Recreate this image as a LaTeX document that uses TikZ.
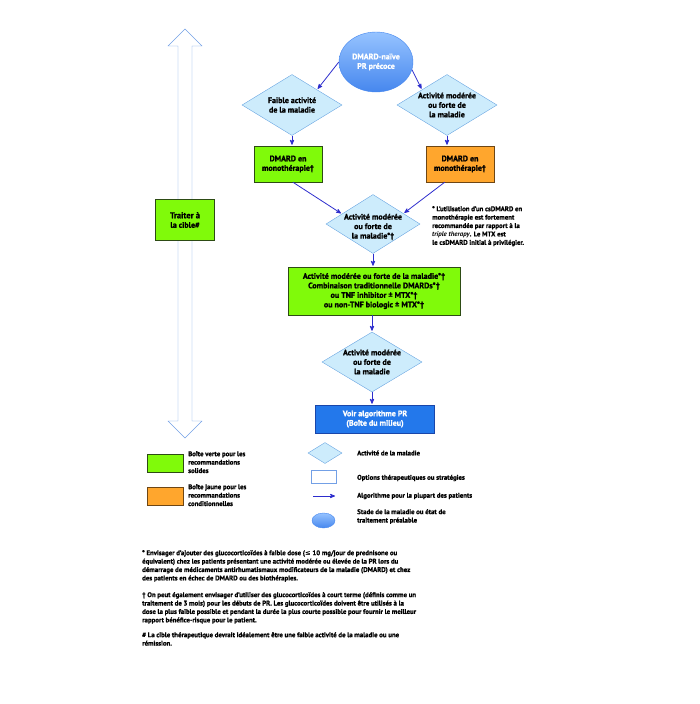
\documentclass[tikz,border=0pt]{standalone}
\usepackage{fontspec}
\setmainfont{PT Sans}[BoldFeatures={FakeBold=1.2}]
\newfontfamily\symfont{DejaVu Sans}
\usetikzlibrary{arrows,positioning,shapes.geometric}

\definecolor{flowblue}{RGB}{45,45,205}
\definecolor{diamondfill}{RGB}{205,236,252}
\definecolor{diamondline}{RGB}{105,165,225}
\definecolor{solidgreen}{RGB}{128,250,10}
\definecolor{greenline}{RGB}{45,75,20}
\definecolor{condorange}{RGB}{255,166,45}
\definecolor{orangeline}{RGB}{110,70,20}
\definecolor{milieublue}{RGB}{35,120,235}
\definecolor{milieuline}{RGB}{25,70,170}
\definecolor{stageblue}{RGB}{70,135,238}
\definecolor{stagelight}{RGB}{150,195,255}
\definecolor{targetline}{RGB}{115,160,230}

\begin{document}
\begin{tikzpicture}[x=1pt,y=-1pt,>=stealth',shorten >=1pt,
    font=\bfseries\fontsize{8}{9.5}\selectfont,
    decision/.style={diamond,draw=diamondline,fill=diamondfill,thin,inner sep=0pt,
                     minimum width=100pt,minimum height=61pt},
    dtext/.style={align=center,inner sep=0pt},
    solid box/.style={rectangle,draw=greenline,fill=solidgreen,thin,align=center,inner sep=0pt},
    cond box/.style={rectangle,draw=orangeline,fill=condorange,thin,align=center,inner sep=0pt},
    stage node/.style={ellipse,draw=stageblue,top color=stagelight,bottom color=stageblue,
                       thin,text=white,align=center,inner sep=0pt},
    milieu box/.style={rectangle,draw=milieuline,fill=milieublue,thin,text=white,align=center,inner sep=0pt},
    flow/.style={->,draw=flowblue,thick},
    note text/.style={align=left,inner sep=0pt,anchor=north west,font=\bfseries\fontsize{6.8}{8.4}\selectfont}]
  \useasboundingbox (0,0) rectangle (700,704);

  % treat to target
  \draw[targetline,fill=white,thin] (185,29) -- (202,46) -- (192,46) -- (192,421) -- (202,421)
    -- (185,438) -- (168,421) -- (178,421) -- (178,46) -- (168,46) -- cycle;
  \node[solid box,minimum width=59pt,minimum height=41pt] (target) at (185,220)
    {\fontsize{8.5}{10.5}\selectfont Traiter à\\la cible\#};

  % algorithm
  \node[stage node,minimum width=74pt,minimum height=60pt] (start) at (376,62)
    {DMARD-naïve\\PR précoce};
  \node[decision,label={[dtext]center:{Faible activité\\de la maladie}}] (ld) at (292,105) {};
  \node[decision,label={[dtext]center:{Activité modérée\\ou forte de\\la maladie}}] (rd) at (447,105) {};
  \node[solid box,minimum width=68pt,minimum height=36pt] (lbox) at (288,164) {DMARD en\\monothérapie†};
  \node[cond box,minimum width=68pt,minimum height=36pt] (rbox) at (460,164) {DMARD en\\monothérapie†};
  \node[decision,minimum width=94pt,minimum height=59pt,
        label={[dtext,yshift=-3pt]center:{Activité modérée\\ou forte de\\la maladie*†}}] (md) at (373,224) {};
  \node[note text] (note) at (432,206) {* L'utilisation d'un csDMARD en\\monothérapie est fortement\\
    recommandée par rapport à la\\\textit{triple therapy}. Le MTX est\\le csDMARD initial à privilégier.};
  \node[solid box,minimum width=172pt,minimum height=48pt] (combo) at (374,291)
    {\fontsize{8}{8.6}\selectfont Activité modérée ou forte de la maladie*†\\Combinaison traditionnelle DMARDs*†\\
     ou TNF inhibitor ± MTX*†\\ou non-TNF biologic ± MTX*†};
  \node[decision,minimum height=60pt,
        label={[dtext]center:{Activité modérée\\ou forte de\\la maladie}}] (ed) at (372,362) {};
  \node[milieu box,minimum width=119pt,minimum height=28pt] (milieu) at (375,419)
    {Voir algorithme PR\\(Boîte du milieu)};

  \draw[flow] (start.west) -- (ld.north east);
  \draw[flow] (start.-12) -- (rd.north west);
  \draw[flow] (ld.south) -- (ld.south |- lbox.north);
  \draw[flow] (rd.south) -- (rd.south |- rbox.north);
  \draw[flow] (lbox.285) -- (md.162);
  \draw[flow] (rbox.230) -- (md.19);
  \draw[flow] (md.south) -- (md.south |- combo.north);
  \draw[flow] (ed.north |- combo.south) -- (ed.north);
  \draw[flow] (ed.south) -- (ed.south |- milieu.north);

  % legend
  \node[solid box,minimum width=36pt,minimum height=18pt] (lgreen) at (165,463) {};
  \node[note text] (tgreen) at (188,451) {Boîte verte pour les\\recommandations\\solides};
  \node[cond box,minimum width=36pt,minimum height=18pt] (lorange) at (165,496) {};
  \node[note text] (torange) at (188,484) {Boîte jaune pour les\\recommandations\\conditionnelles};
  \node[decision,minimum width=34pt,minimum height=21pt] (ldiamond) at (325,453) {};
  \node[note text,anchor=west] (tdiamond) at (357,453) {Activité de la maladie};
  \node[rectangle,draw=targetline,thin,minimum width=25pt,minimum height=13pt] (lrect) at (323.5,476.5) {};
  \node[note text,anchor=west] (trect) at (357,478) {Options thérapeutiques ou stratégies};
  \coordinate (larrow1) at (313,496);
  \coordinate (larrow2) at (336,496);
  \draw[flow] (larrow1) -- (larrow2);
  \node[note text,anchor=west] (tarrow) at (357,496) {Algorithme pour la plupart des patients};
  \node[stage node,minimum width=23pt,minimum height=15pt] (lstage) at (323.5,520.5) {};
  \node[note text] (tstage) at (357,509) {Stade de la maladie ou état de\\traitement préalable};

  % footnotes
  \node[note text] (fn1) at (142,550) {* Envisager d'ajouter des glucocorticoïdes à faible dose ({\symfont ≤} 10 mg/jour de prednisone ou\\
    équivalent) chez les patients présentant une activité modérée ou élevée de la PR lors du\\
    démarrage de médicaments antirhumatismaux modificateurs de la maladie (DMARD) et chez\\
    des patients en échec de DMARD ou des biothérapies.};
  \node[note text] (fn2) at (142,592) {† On peut également envisager d'utiliser des glucocorticoïdes à court terme (définis comme un\\
    traitement de 3 mois) pour les débuts de PR. Les glucocorticoïdes doivent être utilisés à la\\
    dose la plus faible possible et pendant la durée la plus courte possible pour fournir le meilleur\\
    rapport bénéfice-risque pour le patient.};
  \node[note text] (fn3) at (142,632) {\# La cible thérapeutique devrait idéalement être une faible activité de la maladie ou une\\
    rémission.};
\end{tikzpicture}
\end{document}
